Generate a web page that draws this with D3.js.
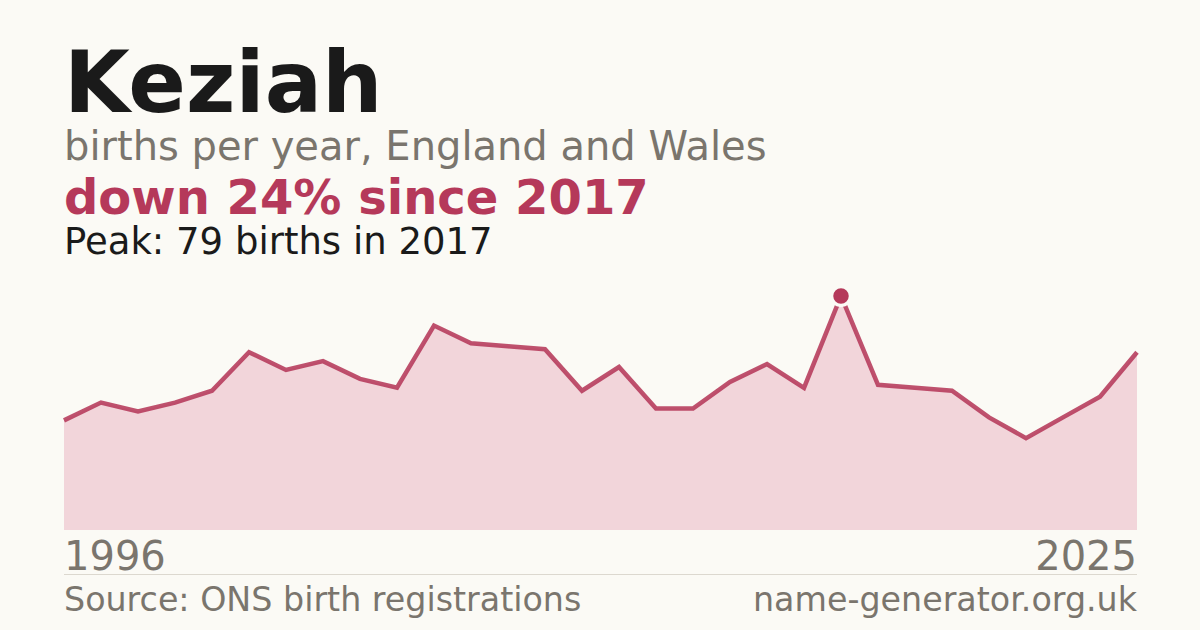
<!DOCTYPE html>
<html>
<head>
<meta charset="utf-8">
<script src="https://cdn.jsdelivr.net/npm/d3@7"></script>
<style>
  html, body { margin: 0; padding: 0; background: #fbfaf5; }
  svg { display: block; font-family: "DejaVu Sans", sans-serif; }
</style>
</head>
<body>
<div class="chart"></div>
<script>
  // Births per year for the name
  const years = [1996, 1997, 1998, 1999, 2000, 2001, 2002, 2003, 2004, 2005,
                 2006, 2007, 2008, 2009, 2010, 2011, 2012, 2013, 2014, 2015,
                 2016, 2017, 2018, 2019, 2020, 2021, 2022, 2023, 2024, 2025];
  const births = [37, 43, 40, 43, 47, 60, 54, 57, 51, 48,
                  69, 63, 62, 61, 47, 55, 41, 41, 50, 56,
                  48, 79, 49, 48, 47, 38, 31, 38, 45, 60];
  const axisLabels = ['1996', '2025'];

  const accent = "#b5395a";
  const fillColor = "#f2d5da";
  const grey = "#7a756d";

  const width = 1200;
  const height = 630;
  const svg = d3.select('.chart')
      .append('svg')
      .attr('width', width)
      .attr('height', height);

  svg.append('rect')
      .attr('width', width)
      .attr('height', height)
      .attr('fill', '#fbfaf5');

  const data = years.map((y, i) => ({year: y, value: births[i]}));
  const peak = data.reduce((a, b) => b.value > a.value ? b : a);
  const last = data[data.length - 1];
  const change = Math.round((last.value - peak.value) / peak.value * 100);

  // Scales
  const x = d3.scaleLinear()
      .domain(d3.extent(years))
      .range([64, 1137]);
  const y = d3.scaleLinear()
      .domain([0, peak.value * 1.068])
      .range([530, 280]);

  // Area + line
  const area = d3.area()
      .x(d => x(d.year))
      .y0(y(0))
      .y1(d => y(d.value));
  const line = d3.line()
      .x(d => x(d.year))
      .y(d => y(d.value));

  svg.append('path')
      .datum(data)
      .attr('d', area)
      .attr('fill', fillColor);

  svg.append('path')
      .datum(data)
      .attr('d', line)
      .attr('fill', 'none')
      .attr('stroke', accent)
      .attr('stroke-width', 4.5)
      .attr('stroke-opacity', 0.88)
      .attr('stroke-linejoin', 'miter');

  // Peak marker
  svg.append('circle')
      .attr('cx', x(peak.year))
      .attr('cy', y(peak.value))
      .attr('r', 9.5)
      .attr('fill', accent)
      .attr('stroke', '#fbfaf5')
      .attr('stroke-width', 3.5);

  // Titles
  svg.append('text')
      .attr('x', 64).attr('y', 112)
      .attr('font-size', 85)
      .attr('font-weight', 'bold')
      .attr('fill', '#1a1a1a')
      .text('Keziah');
  svg.append('text')
      .attr('x', 64).attr('y', 160)
      .attr('font-size', 40)
      .attr('fill', grey)
      .text('births per year, England and Wales');
  svg.append('text')
      .attr('x', 64).attr('y', 214)
      .attr('font-size', 48)
      .attr('font-weight', 'bold')
      .attr('fill', accent)
      .text(`down ${Math.abs(change)}% since ${peak.year}`);
  svg.append('text')
      .attr('x', 64).attr('y', 254)
      .attr('font-size', 37)
      .attr('fill', '#1a1a1a')
      .text(`Peak: ${peak.value} births in ${peak.year}`);

  // Axis end labels
  svg.append('text')
      .attr('x', x(years[0])).attr('y', 570)
      .attr('font-size', 40)
      .attr('fill', grey)
      .text(axisLabels[0]);
  svg.append('text')
      .attr('x', x(years[years.length - 1])).attr('y', 570)
      .attr('font-size', 40)
      .attr('text-anchor', 'end')
      .attr('fill', grey)
      .text(axisLabels[1]);

  // Divider
  svg.append('line')
      .attr('x1', 64).attr('x2', 1137)
      .attr('y1', 574.5).attr('y2', 574.5)
      .attr('stroke', '#dcd8cf')
      .attr('stroke-width', 1);

  // Footer
  svg.append('text')
      .attr('x', 64).attr('y', 611)
      .attr('font-size', 33.3)
      .attr('fill', grey)
      .text('Source: ONS birth registrations');
  svg.append('text')
      .attr('x', 1137).attr('y', 611)
      .attr('font-size', 33.3)
      .attr('text-anchor', 'end')
      .attr('fill', grey)
      .text('name-generator.org.uk');
</script>
</body>
</html>
